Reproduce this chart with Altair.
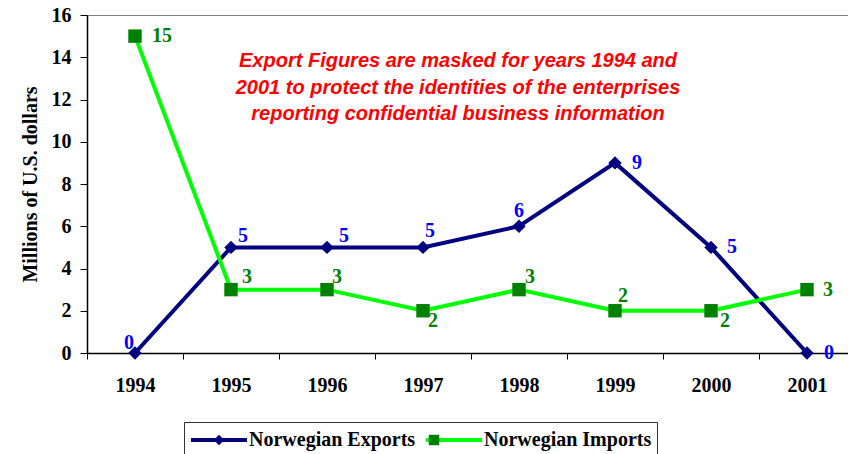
import math
import altair as alt
import pandas as pd

# ---------------- data ----------------
years = ["1994", "1995", "1996", "1997", "1998", "1999", "2000", "2001"]
exports = [0, 5, 5, 5, 6, 9, 5, 0]
imports = [15, 3, 3, 2, 3, 2, 2, 3]
series_names = ["Norwegian Exports", "Norwegian Imports"]
y_ticks = [0, 2, 4, 6, 8, 10, 12, 14, 16]
note_lines = [
    "Export Figures are masked for years 1994 and",
    "2001 to protect the identities of the enterprises",
    "reporting confidential business information",
]

# label offsets (styling, in px)
exp_off = [(-6, -10), (12, -11), (17, -11), (7, -16), (0, -15), (22, 0), (21, 0), (22, 0)]
imp_off = [(27, 0), (16, -13), (10, -13), (10, 10), (11, -13), (8, -15), (14, 10), (21, 0)]

NAVY = "#000080"
LIME = "#00FF00"
DKGREEN = "#008000"
BLUE = "#0000FF"
SERIF = "Liberation Serif"

df = pd.DataFrame({
    "year": years * 2,
    "value": exports + imports,
    "series": [series_names[0]] * len(years) + [series_names[1]] * len(years),
})

x_enc = alt.X(
    "year:O",
    scale=alt.Scale(type="band", domain=years, paddingInner=0, paddingOuter=0),
    axis=alt.Axis(title=None, labelAngle=0, tickBand="extent", tickSize=6,
                  labelPadding=16, labelFontSize=20),
)
y_enc = alt.Y(
    "value:Q",
    scale=alt.Scale(domain=[0, 16], nice=False, zero=True),
    axis=alt.Axis(values=y_ticks, tickSize=7, labelPadding=9, grid=False,
                  title="Millions of U.S. dollars", titleFont=SERIF, titleFontSize=20,
                  titleFontWeight="bold", titleColor="black", titleAngle=270,
                  titleX=-57, titleY=169, titleAlign="center", titleBaseline="middle"),
)

LEG_X = 97
LEG_Y = 407
FS = 20
A_SIZE = 56 * 56
A_SW = 4
A_ENTRY = max(math.ceil(math.sqrt(A_SIZE) + A_SW), FS)
B_SIZE = 110
B_SW = 0
B_ENTRY = max(math.ceil(math.sqrt(B_SIZE) + B_SW), FS)
B_SHIFT = (A_ENTRY - B_ENTRY) / 2
B_LABOFF = A_ENTRY - B_ENTRY - B_SHIFT

base = alt.Chart(df)

lines = base.mark_line(strokeWidth=4).encode(
    x=x_enc, y=y_enc,
    color=alt.Color("series:N",
                    scale=alt.Scale(domain=series_names, range=[NAVY, LIME]),
                    legend=alt.Legend(title=None, orient="none", legendX=LEG_X, legendY=LEG_Y,
                                      direction="horizontal", symbolType="stroke",
                                      symbolSize=A_SIZE, symbolStrokeWidth=A_SW,
                                      labelFont=SERIF, labelFontSize=FS, labelFontWeight="bold",
                                      labelColor="black", labelOffset=0, labelLimit=400,
                                      columnPadding=8, padding=5, clipHeight=26,
                                      strokeColor="#333333", zindex=1)),
)

legend_b = alt.Legend(title=None, orient="none", legendX=LEG_X + B_SHIFT,
                      legendY=LEG_Y, direction="horizontal",
                      symbolSize=B_SIZE, symbolStrokeWidth=B_SW,
                      labelFont=SERIF, labelFontSize=FS, labelFontWeight="bold",
                      labelOpacity=0, labelOffset=B_LABOFF, labelLimit=400,
                      columnPadding=8, padding=5, clipHeight=26, zindex=2)

points = base.transform_calculate(series_m="datum.series").mark_point(
    filled=True, size=180, opacity=1
).encode(
    x=x_enc, y=y_enc,
    fill=alt.Fill("series_m:N", scale=alt.Scale(range=[NAVY, DKGREEN]), legend=legend_b),
    shape=alt.Shape("series_m:N", scale=alt.Scale(range=["diamond", "square"]), legend=legend_b),
)

label_layers = []
for s, offs, col in [(series_names[0], exp_off, BLUE), (series_names[1], imp_off, DKGREEN)]:
    for yr, (dx, dy) in zip(years, offs):
        label_layers.append(
            base.transform_filter(f"datum.series == '{s}' && datum.year == '{yr}'")
            .mark_text(dx=dx, dy=dy, font=SERIF, fontSize=20, fontWeight="bold",
                       color=col, align="center", baseline="middle")
            .encode(x=x_enc, y=y_enc, text="value:Q")
        )

note = alt.Chart(pd.DataFrame({"k": [0]})).mark_text(
    text=note_lines, font="Liberation Sans", fontStyle="italic", fontWeight="bold",
    fontSize=20, color="#FF0000", align="center", baseline="alphabetic", lineHeight=26.5,
).encode(x=alt.value(371), y=alt.value(52))

chart = alt.layer(lines, points, *label_layers, note).properties(
    width=768, height=338,
    autosize=alt.AutoSizeParams(type="none"),
    padding={"left": 79, "top": 7, "right": -7, "bottom": 101},
).configure_view(
    stroke="#808080", strokeWidth=1
).configure_axis(
    domainColor="black", domainWidth=1.5, tickColor="black", tickWidth=1,
    labelFont=SERIF, labelFontSize=20, labelFontWeight="bold", labelColor="black",
    grid=False,
)

chart.save("out.html", embed_options={"renderer": "svg", "actions": False})
